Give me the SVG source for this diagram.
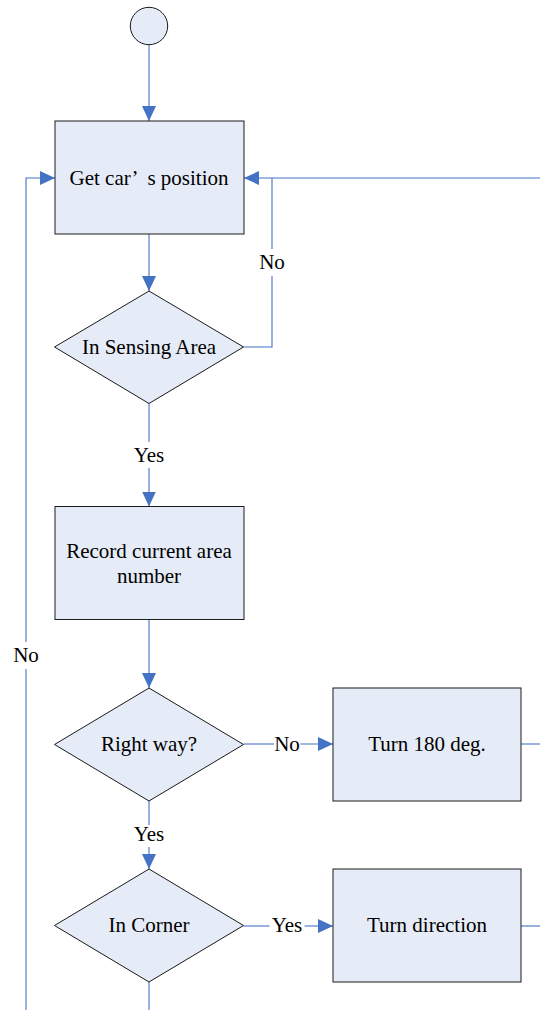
<svg xmlns="http://www.w3.org/2000/svg" width="540" height="1010" viewBox="0 0 540 1010" font-family="'Liberation Serif', 'Times New Roman', Tinos, 'DejaVu Serif', serif">
  <style>
    .shape { fill: #E6ECF7; stroke: #1a1a1a; stroke-width: 1; }
    .conn { fill: none; stroke: #4472C4; stroke-width: 1.1; }
    .lbl { font-size: 21px; fill: #000; text-anchor: middle; }
  </style>
  <defs>
    <marker id="arrow" viewBox="0 0 15 14" refX="15" refY="7" markerWidth="15" markerHeight="14" markerUnits="userSpaceOnUse" orient="auto">
      <path d="M0,0 L15,7 L0,14 z" fill="#4472C4"/>
    </marker>
  </defs>
  <rect width="540" height="1010" fill="#fff"/>

  <!-- connectors -->
  <g id="connectors">
    <path class="conn" d="M149,45 V121" marker-end="url(#arrow)"/>
    <path class="conn" d="M149,234 V291" marker-end="url(#arrow)"/>
    <path class="conn" d="M540,178 H244" marker-end="url(#arrow)"/>
    <path class="conn" d="M243.5,347 H272 V276"/>
    <path class="conn" d="M272,249 V178"/>
    <path class="conn" d="M149,403.5 V442"/>
    <path class="conn" d="M149,468 V506.5" marker-end="url(#arrow)"/>
    <path class="conn" d="M149,619.5 V688" marker-end="url(#arrow)"/>
    <path class="conn" d="M243.5,744 H274"/>
    <path class="conn" d="M300.5,744 H333" marker-end="url(#arrow)"/>
    <path class="conn" d="M521,744 H540"/>
    <path class="conn" d="M149,801 V825"/>
    <path class="conn" d="M149,847 V869" marker-end="url(#arrow)"/>
    <path class="conn" d="M243.5,926 H269.5"/>
    <path class="conn" d="M304.5,926 H333" marker-end="url(#arrow)"/>
    <path class="conn" d="M521,926 H540"/>
    <path class="conn" d="M149,982 V1010"/>
    <path class="conn" d="M26,1010 V669"/>
    <path class="conn" d="M26,642 V178 H55" marker-end="url(#arrow)"/>
    <!-- branch labels -->
    <text class="lbl" x="272" y="269">No</text>
    <text class="lbl" x="149" y="462">Yes</text>
    <text class="lbl" x="26" y="662">No</text>
    <text class="lbl" x="287" y="751">No</text>
    <text class="lbl" x="149" y="841">Yes</text>
    <text class="lbl" x="287" y="932">Yes</text>
  </g>

  <g id="start">
    <circle class="shape" cx="149" cy="26" r="18.7"/>
  </g>

  <g id="get-position">
    <rect class="shape" x="55" y="121" width="189" height="113"/>
    <text class="lbl" x="149" y="184.5" xml:space="preserve">Get car’  s position</text>
  </g>

  <g id="in-sensing-area">
    <polygon class="shape" points="149,291 243.5,347 149,403.5 54.5,347"/>
    <text class="lbl" x="149" y="354">In Sensing Area</text>
  </g>

  <g id="record-area">
    <rect class="shape" x="55" y="506.5" width="189" height="113"/>
    <text class="lbl" x="149" y="558">Record current area</text>
    <text class="lbl" x="149" y="583">number</text>
  </g>

  <g id="right-way">
    <polygon class="shape" points="149,688 243.5,744.5 149,801 54.5,744.5"/>
    <text class="lbl" x="149" y="751">Right way?</text>
  </g>

  <g id="turn-180">
    <rect class="shape" x="333" y="688" width="188" height="113"/>
    <text class="lbl" x="427" y="751">Turn 180 deg.</text>
  </g>

  <g id="in-corner">
    <polygon class="shape" points="149,869 243.5,925.5 149,982 54.5,925.5"/>
    <text class="lbl" x="149" y="932">In Corner</text>
  </g>

  <g id="turn-direction">
    <rect class="shape" x="333" y="869" width="188" height="113"/>
    <text class="lbl" x="427" y="932">Turn direction</text>
  </g>
</svg>
